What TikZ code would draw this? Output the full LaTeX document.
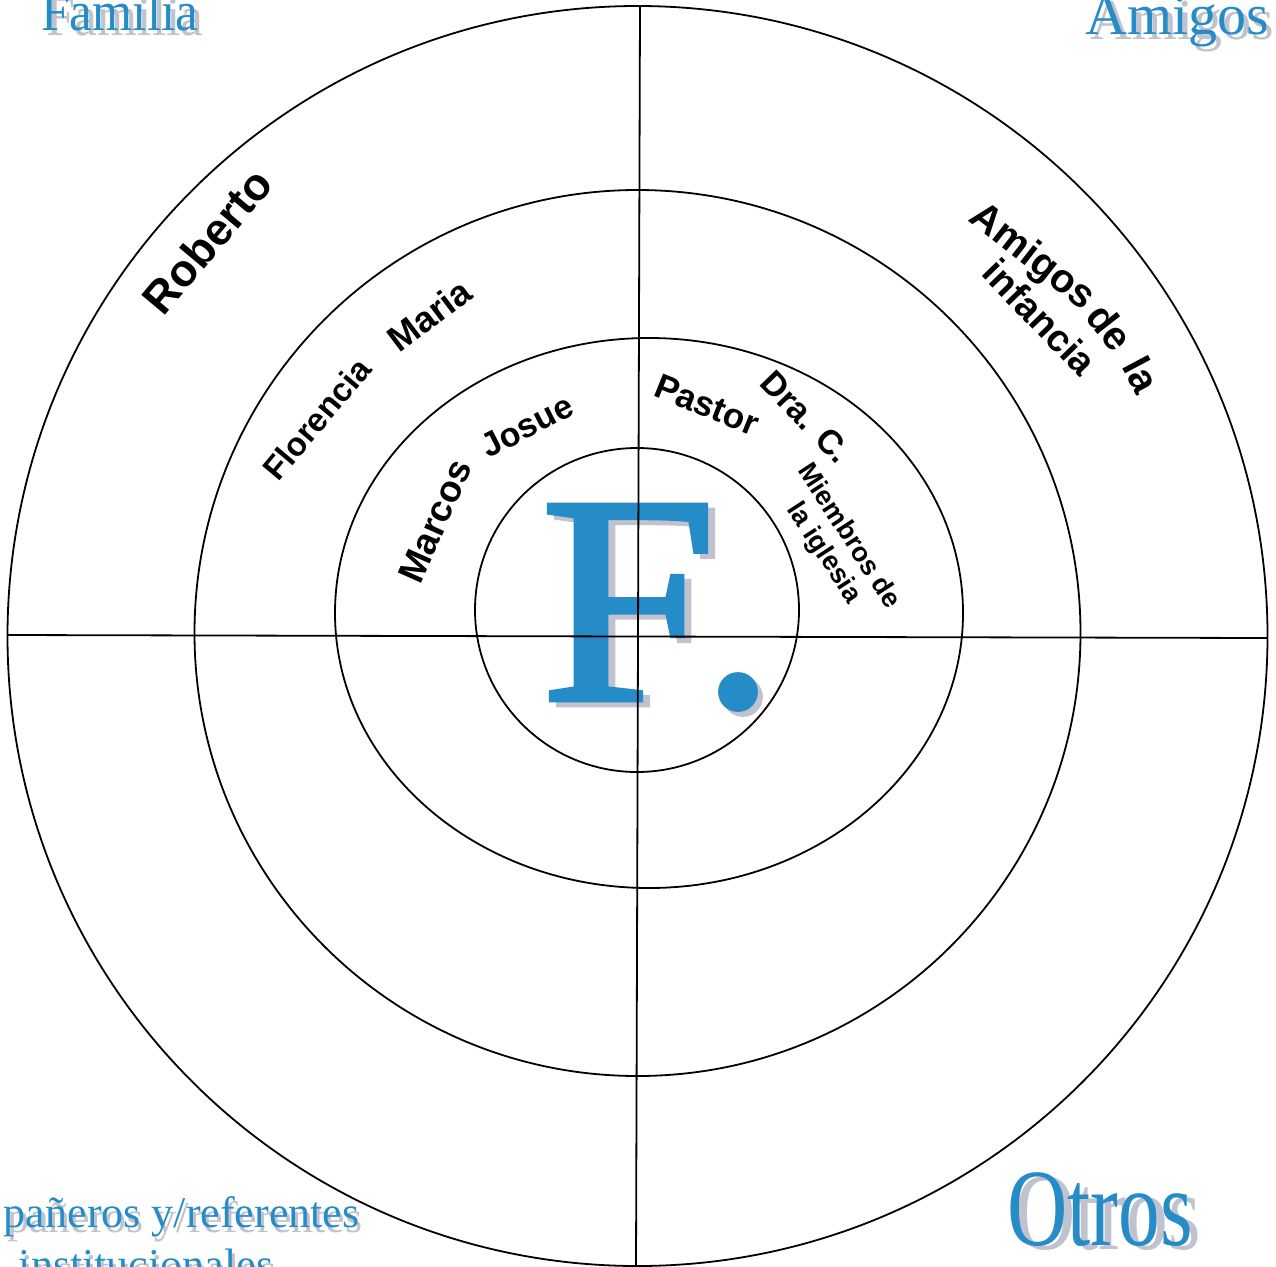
\documentclass[tikz,border=0pt]{standalone}
\usepackage{fontspec}
\setmainfont{Liberation Serif}
\setsansfont{Liberation Sans}
\newfontfamily\bigserif{Liberation Serif}[FakeBold=1.5]
\definecolor{fblue}{RGB}{38,140,200}
\definecolor{fshadow}{RGB}{192,194,206}
\begin{document}
\begin{tikzpicture}[x=1pt,y=-1pt,
  ring/.style={draw=black,line width=1.8pt},
  axisline/.style={draw=black,line width=1.8pt},
  lab/.style={font=\sffamily\bfseries\fontsize{#1}{#1}\selectfont,inner sep=0pt,outer sep=0pt,text=black},
  ttl/.style={font=\fontsize{#1}{#1}\selectfont,inner sep=0pt,outer sep=0pt,anchor=base,text=fblue},
  big/.style={font=\bigserif\fontsize{298}{298}\selectfont,inner sep=0pt,outer sep=0pt,text=fblue},
  shd/.style={text=fshadow}]
\useasboundingbox (0,0) rectangle (1276,1266);

% centre letter with shadow
\node[big,shd,anchor=base west,xscale=1.07] (fsh) at (547,705) {F};
\node[big,anchor=base west,xscale=1.07] (fl) at (540,700) {F};
\node[big,shd,anchor=center] (dotsh) at (743,697) {.};
\node[big,anchor=center] (dot) at (738,692) {.};

% rings
\coordinate (c1) at (637.5,636);
\coordinate (c2) at (637.5,633);
\coordinate (c3) at (649,613);
\coordinate (c4) at (637,610);
\draw[ring] (c1) circle[radius=630];
\draw[ring] (c2) circle[radius=443];
\draw[ring] (c3) ellipse[x radius=314,y radius=275];
\draw[ring] (c4) circle[radius=162];

% axes
\coordinate (top) at (640,6);
\coordinate (bot) at (636,1266);
\coordinate (lft) at (8,635);
\coordinate (rgt) at (1267,638);
\draw[axisline] (top) -- (bot);
\draw[axisline] (lft) -- (rgt);

% quadrant titles with shadows
\node[ttl=56,shd,xscale=.92] (famsh) at (125,35) {Familia};
\node[ttl=56,xscale=.92] (fam) at (120,30) {Familia};
\node[ttl=58,shd] (amisha) at (1182,39) {Amigos};
\node[ttl=58] (amia) at (1177,34) {Amigos};
\node[ttl=44,shd,anchor=base west] (compsh) at (7,1232) {pañeros y/referentes};
\node[ttl=44,anchor=base west] (comp) at (4,1227) {pañeros y/referentes};
\node[ttl=44,shd] (instsh) at (149,1284) {institucionales};
\node[ttl=44] (inst) at (146,1279) {institucionales};
\node[ttl=110,shd,xscale=.76] (otrossh) at (1108,1249) {Otros};
\node[ttl=110,xscale=.76] (otros) at (1100,1245) {Otros};

% names
\node[lab=45,rotate=50] (roberto) at (207,241) {Roberto};
\node[lab=33,rotate=50] (florencia) at (317,419) {Florencia};
\node[lab=36,rotate=37] (maria) at (429,315) {Maria};
\node[lab=37,rotate=66] (marcos) at (435,521) {Marcos};
\node[lab=34,rotate=27] (josue) at (527,426) {Josue};
\node[lab=35,rotate=-22] (pastor) at (707,405) {Pastor};
\node[lab=34,rotate=-46] (drac) at (806,417) {Dra. C.};
\node[inner sep=0pt,rotate=-57,align=center,font=\sffamily\bfseries\fontsize{27}{30}\selectfont] (miembros) at (836,545) {Miembros de\\la iglesia};
\node[lab=40,rotate=-38] (amigos) at (1032,258) {Amigos};
\node[lab=40,rotate=-52] (de) at (1110,327) {de};
\node[lab=40,rotate=-62] (la) at (1142,375) {la};
\node[lab=38,rotate=-46] (infancia) at (1040,317) {infancia};
\end{tikzpicture}
\end{document}
